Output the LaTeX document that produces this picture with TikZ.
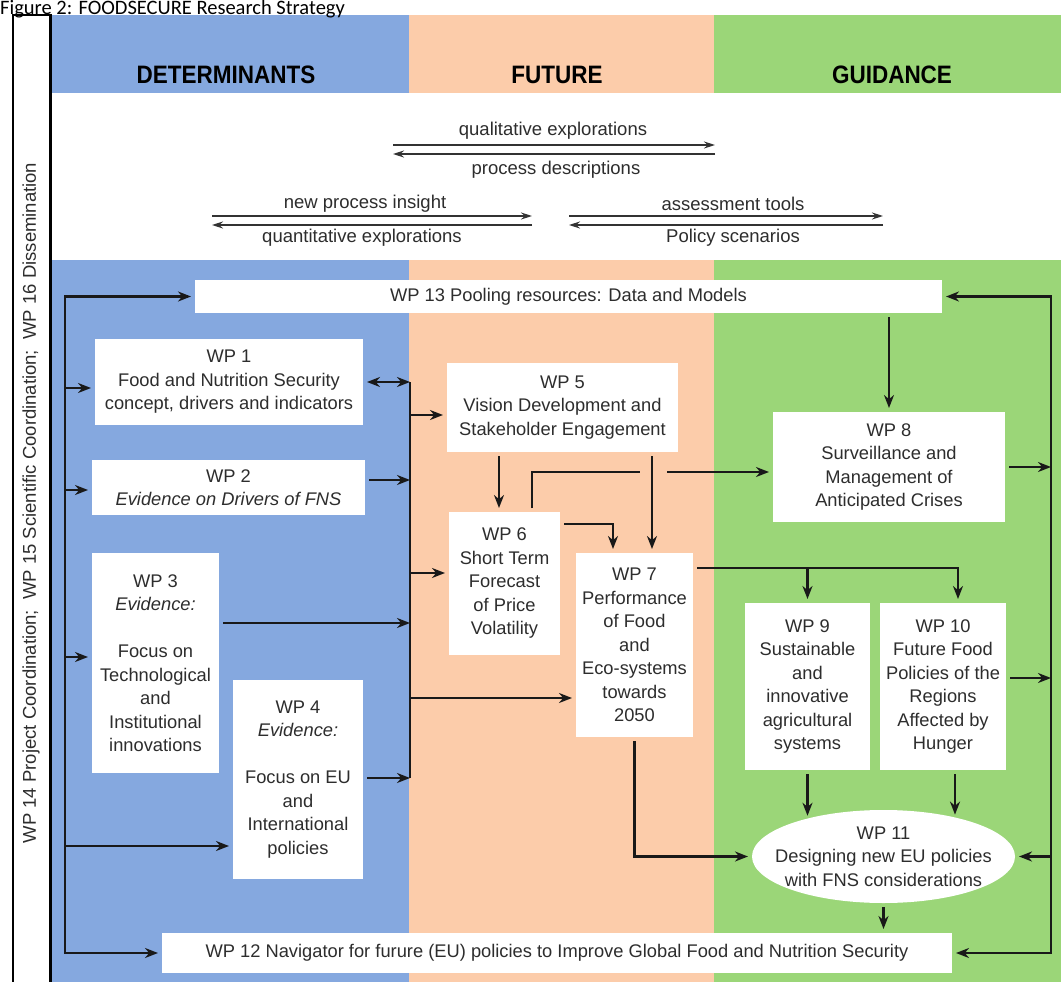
\documentclass[tikz,border=0pt]{standalone}
\usepackage{fontspec}
\setmainfont{Liberation Sans}
\newfontfamily\titlefont{Carlito}
\usetikzlibrary{arrows.meta,shapes.geometric,calc}
\definecolor{detblue}{RGB}{133,168,223}
\definecolor{futpeach}{RGB}{252,204,170}
\definecolor{guigreen}{RGB}{155,214,120}
\definecolor{inkgray}{RGB}{45,45,45}
\tikzset{
    wpbox/.style={fill=white,align=center,inner sep=0pt,outer sep=4pt,text=inkgray,font=\fontsize{18.3}{23.5}\selectfont},
    wpoval/.style={wpbox,ellipse,inner xsep=-16pt},
    arr/.style={line width=2.3pt,draw=black!90,-{Stealth[length=13pt,width=10pt]}},
    arrtwo/.style={line width=2.3pt,draw=black!90,{Stealth[length=13pt,width=10pt]}-{Stealth[length=13pt,width=10pt]}},
    plainline/.style={line width=2.3pt,draw=black!90},
    bandarr/.style={line width=1.4pt,draw=black!80,-{Stealth[length=11pt,width=7pt]}},
    bandlabel/.style={inner sep=0pt,text=inkgray,font=\fontsize{18.5}{22}\selectfont},
    header/.style={inner sep=0pt,yscale=1.12,font=\fontsize{22.5}{26}\selectfont\bfseries}
}
\begin{document}
\begin{tikzpicture}[x=1pt,y=-1pt]
                \useasboundingbox(0,0)rectangle(1061,982);
                \fill[detblue](50,15)rectangle(409,982);
                \fill[futpeach](409,15)rectangle(714,982);
                \fill[guigreen](714,15)rectangle(1061,982);
                \fill[white](50,93)rectangle(1061,260);
                \fill[white](13,15)rectangle(50,982);
                \draw[line width=1.5pt](13,982)--(13,15)--(50,15);
                \draw[line width=3pt](50,14)--(50,982);
                \node[anchor=base west,inner sep=0pt,font=\titlefont\fontsize{20.5}{24}\selectfont](title)at(0,14.5){Figure 2: FOODSECURE Research Strategy};
                \node[rotate=90,bandlabel](coord)at(31,503){WP 14 Project Coordination;\ \ WP 15 Scientific Coordination;\ \ WP 16 Dissemination};
                \node[header](det)at(226,75){DETERMINANTS};
                \node[header](fut)at(557,75){FUTURE};
                \node[header](gui)at(892,75){GUIDANCE};
                % white band
                \node[bandlabel](qual)at(553,131){qualitative explorations};
                \node[bandlabel](proc)at(556,170){process descriptions};
                \node[bandlabel](insi)at(365,204){new process insight};
                \node[bandlabel](quan)at(362,238){quantitative explorations};
                \node[bandlabel](asse)at(733,204){assessment tools};
                \node[bandlabel](poli)at(733,238){Policy scenarios};
                \coordinate(QL)at(393,145);\coordinate(QR)at(715,145);
                \coordinate(PL)at(393,154);\coordinate(PR)at(715,154);
                \coordinate(NL)at(212,216);\coordinate(NR)at(532,216);
                \coordinate(UL)at(212,225);\coordinate(UR)at(532,225);
                \coordinate(AL)at(569,216);\coordinate(AR)at(883,216);
                \coordinate(SL)at(569,225);\coordinate(SR)at(883,225);
                \draw[bandarr](QL)--(QR);
                \draw[bandarr](PR)--(PL);
                \draw[bandarr](NL)--(NR);
                \draw[bandarr](UR)--(UL);
                \draw[bandarr](AL)--(AR);
                \draw[bandarr](SR)--(SL);
                % work packages
                \node[wpbox,minimum width=747,minimum height=33](wp13)at(568.5,296.5){WP 13 Pooling resources: Data and Models};
                \node[wpbox,minimum width=268,minimum height=86](wp1)at(229,382){WP 1\\Food and Nutrition Security\\concept, drivers and indicators};
                \node[wpbox,minimum width=273,minimum height=55](wp2)at(228.5,487.5){WP 2\\\textit{Evidence on Drivers of FNS}};
                \node[wpbox,minimum width=127,minimum height=220](wp3)at(155.5,663){WP 3\\\textit{Evidence:}\\[\baselineskip]Focus on\\Technological\\and\\Institutional\\innovations};
                \node[wpbox,minimum width=130,minimum height=199](wp4)at(298,779.5){WP 4\\\textit{Evidence:}\\[\baselineskip]Focus on EU\\and\\International\\policies};
                \node[wpbox,minimum width=231,minimum height=89](wp5)at(562.5,407.5){WP 5\\Vision Development and\\Stakeholder Engagement};
                \node[wpbox,minimum width=111,minimum height=143](wp6)at(504.5,583.5){WP 6\\Short Term\\Forecast\\of Price\\Volatility};
                \node[wpbox,minimum width=117,minimum height=184](wp7)at(634.5,645){WP 7\\Performance\\of Food\\and\\Eco-systems\\towards\\2050};
                \node[wpbox,minimum width=232,minimum height=110](wp8)at(889,467){WP 8\\Surveillance and\\Management of\\Anticipated Crises};
                \node[wpbox,minimum width=125,minimum height=167](wp9)at(807.5,686.5){WP 9\\Sustainable\\and\\innovative\\agricultural\\systems};
                \node[wpbox,minimum width=126,minimum height=167](wp10)at(943,686.5){WP 10\\Future Food\\Policies of the\\Regions\\Affected by\\Hunger};
                \node[wpoval,minimum width=263,minimum height=93](wp11)at(883.5,856.5){WP 11\\Designing new EU policies\\with FNS considerations};
                \node[wpbox,minimum width=790,minimum height=40](wp12)at(557,953){WP 12 Navigator for furure (EU) policies to Improve Global Food and Nutrition Security};
                % left collector
                \coordinate(LC)at(65,600);
                \draw[arrtwo](wp13.west)-|(LC)|-(wp12.west);
                \foreach \n/\y in {wp1/388,wp2/490,wp3/657,wp4/846}{
                    \coordinate(L\n)at(65,\y);
                    \draw[arr](L\n)--(L\n-|\n.west);
                }
                % middle collector
                \coordinate(MT)at(410,382);
                \coordinate(MB)at(410,778);
                \draw[plainline](MT)--(MB);
                \draw[arrtwo](wp1.east)--(wp1.east-|MT);
                \foreach \n/\y in {wp2/480,wp3/623,wp4/778}{
                    \coordinate(M\n)at(410,\y);
                    \draw[arr](M\n-|\n.east)--(M\n);
                }
                \foreach \n/\y in {wp5/415,wp6/573,wp7/698}{
                    \coordinate(N\n)at(410,\y);
                    \draw[arr](N\n)--(N\n-|\n.west);
                }
                % future
                \coordinate(X56)at(499,0);
                \coordinate(X57)at(652,0);
                \coordinate(X68)at(532,0);
                \coordinate(H1)at(640,472);
                \coordinate(H2)at(667,472);
                \coordinate(K67)at(613,524);
                \draw[arr](wp5.south-|X56)--(wp6.north-|X56);
                \draw[arr](wp5.south-|X57)--(wp7.north-|X57);
                \draw[plainline](wp6.north-|X68)|-(H1);
                \draw[arr](H2)--(H2-|wp8.west);
                \draw[arr](K67-|wp6.east)-|(wp7.north-|K67);
                \draw[arr](wp7.south)|-(wp11.west);
                % guidance
                \coordinate(R7)at(958,568);
                \coordinate(X10)at(955,0);
                \draw[arr](R7-|wp7.east)-|(wp10.north-|R7);
                \draw[arr](wp9.north|-R7)--(wp9.north);
                \draw[arr](wp13.south-|wp8.north)--(wp8.north);
                \draw[arr](wp9.south)--(wp9.south|-wp11.153);
                \draw[arr](wp10.south-|X10)--(X10|-wp11.29);
                \draw[arr](wp11.south)--(wp11.south|-wp12.north);
                % right collector
                \coordinate(RC)at(1051,600);
                \coordinate(R10)at(1051,678);
                \draw[arrtwo](wp13.east)-|(RC)|-(wp12.east);
                \draw[arr](wp8.east)--(wp8.east-|RC);
                \draw[arr](R10-|wp10.east)--(R10);
                \draw[arr](wp11.east-|RC)--(wp11.east);
            \end{tikzpicture}
\end{document}
